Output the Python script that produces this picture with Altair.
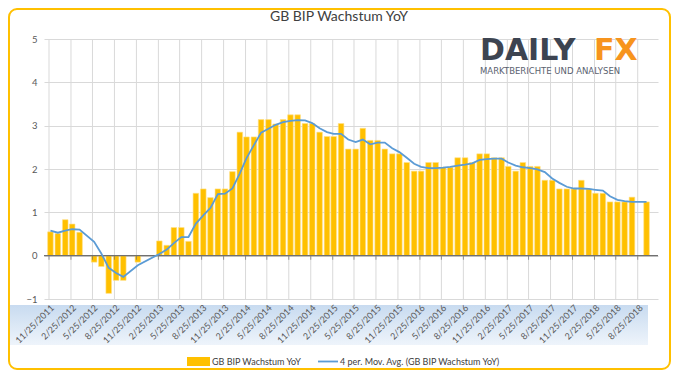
import altair as alt
import pandas as pd

title_text = "GB BIP Wachstum YoY"
bar_name = "GB BIP Wachstum YoY"
line_name = "4 per. Mov. Avg. (GB BIP Wachstum YoY)"

bar_dates = [
    "2011-12-01", "2012-01-01", "2012-02-01", "2012-03-01", "2012-04-01",
    "2012-06-01", "2012-07-01", "2012-08-01", "2012-09-01", "2012-10-01", "2012-12-01",
    "2013-03-01", "2013-04-01", "2013-05-01", "2013-06-01", "2013-07-01", "2013-08-01",
    "2013-09-01", "2013-10-01", "2013-11-01", "2013-12-01",
    "2014-01-01", "2014-02-01", "2014-03-01", "2014-04-01", "2014-05-01", "2014-06-01",
    "2014-07-01", "2014-08-01", "2014-09-01", "2014-10-01", "2014-11-01", "2014-12-01",
    "2015-01-01", "2015-02-01", "2015-03-01", "2015-04-01", "2015-05-01", "2015-06-01",
    "2015-07-01", "2015-08-01", "2015-09-01", "2015-10-01", "2015-11-01", "2015-12-01",
    "2016-01-01", "2016-02-01", "2016-03-01", "2016-04-01", "2016-05-01", "2016-06-01",
    "2016-07-01", "2016-08-01", "2016-09-01", "2016-10-01", "2016-11-01", "2016-12-01",
    "2017-01-01", "2017-02-01", "2017-03-01", "2017-04-01", "2017-05-01", "2017-06-01",
    "2017-07-01", "2017-08-01", "2017-09-01", "2017-10-01", "2017-11-01", "2017-12-01",
    "2018-01-01", "2018-02-01", "2018-03-01", "2018-04-01", "2018-05-01", "2018-06-01",
    "2018-07-01", "2018-08-01", "2018-10-01",
]

growth = [
    0.55, 0.51, 0.83, 0.73, 0.54,
    -0.15, -0.25, -0.87, -0.57, -0.57, -0.15,
    0.34, 0.24, 0.65, 0.65, 0.33, 1.44,
    1.54, 1.34, 1.54, 1.54,
    1.94, 2.85, 2.74, 2.74, 3.14, 3.14,
    3.04, 3.14, 3.25, 3.25, 3.05, 3.05,
    2.85, 2.75, 2.75, 3.05, 2.46, 2.46,
    2.94, 2.66, 2.66, 2.46, 2.35, 2.35,
    2.15, 1.95, 1.95, 2.15, 2.15, 2.04,
    2.04, 2.26, 2.26, 2.15, 2.35, 2.35,
    2.26, 2.26, 2.06, 1.95, 2.15, 2.06,
    2.06, 1.74, 1.74, 1.54, 1.54, 1.54,
    1.74, 1.54, 1.44, 1.44, 1.24, 1.24,
    1.24, 1.35, 1.24,
]

mov_avg = [
    0.58, 0.53, 0.58, 0.61, 0.60,
    0.32, 0.05, -0.28, -0.40, -0.49, -0.22,
    0.04, 0.14, 0.29, 0.43, 0.43, 0.74,
    0.93, 1.10, 1.42, 1.43,
    1.55, 1.90, 2.25, 2.55, 2.84, 2.93,
    3.02, 3.08, 3.11, 3.13, 3.12, 3.06,
    2.94, 2.85, 2.81, 2.81, 2.68, 2.62,
    2.68, 2.57, 2.61, 2.61, 2.48, 2.39,
    2.26, 2.12, 2.05, 2.02, 2.02, 2.03,
    2.05, 2.08, 2.10, 2.13, 2.21, 2.23,
    2.24, 2.24, 2.15, 2.08, 2.04, 2.02,
    1.99, 1.93, 1.78, 1.68, 1.59, 1.55,
    1.55, 1.54, 1.52, 1.50, 1.37, 1.29,
    1.26, 1.24, 1.24,
]

tick_labels = [
    "11/25/2011", "2/25/2012", "5/25/2012", "8/25/2012", "11/25/2012",
    "2/25/2013", "5/25/2013", "8/25/2013", "11/25/2013",
    "2/25/2014", "5/25/2014", "8/25/2014", "11/25/2014",
    "2/25/2015", "5/25/2015", "8/25/2015", "11/25/2015",
    "2/25/2016", "5/25/2016", "8/25/2016", "11/25/2016",
    "2/25/2017", "5/25/2017", "8/25/2017", "11/25/2017",
    "2/25/2018", "5/25/2018", "8/25/2018",
]
y_ticks = [-1, 0, 1, 2, 3, 4, 5]
x_range = ["2011-11-25", "2018-10-28"]


def to_ms(ts):
    return int(ts.value // 10**6)


tick_ms = [to_ms(pd.to_datetime(t, format="%m/%d/%Y")) for t in tick_labels]
dom_ms = [to_ms(pd.Timestamp(d)) for d in x_range]

df = pd.DataFrame({"date": bar_dates, "value": growth, "avg": mov_avg})
ticks_df = pd.DataFrame({"t": tick_ms, "z": [0] * len(tick_ms)})

W, H = 614, 260
GRID = "#D9D9D9"
LABEL = "#595959"
FONT = "Lato"

x_scale = alt.Scale(type="utc", domain=dom_ms)
y_scale = alt.Scale(domain=[-1, 5], nice=False, zero=False)
x_axis = alt.Axis(
    values=tick_ms,
    labelExpr="utcFormat(datum.value, '%-m/%-d/%Y')",
    labelAngle=-45, labelAlign="right", labelBaseline="middle",
    labelFontSize=9, labelColor=LABEL, labelFont=FONT,
    labelPadding=7, labelOffset=3, labelFlush=False, labelOverlap=False,
    ticks=False, domain=False, grid=False,
    title=None, zindex=1,
)
y_axis = alt.Axis(
    values=y_ticks, title=None, ticks=False, domain=False,
    gridColor=GRID, gridWidth=1, labelColor=LABEL, labelFontSize=9.5,
    labelFont=FONT, labelPadding=7,
)

one = pd.DataFrame({"k": [0]})

band = alt.Chart(one).mark_rect(
    fill=alt.Gradient(
        gradient="linear",
        stops=[alt.GradientStop(color="#C8DBF0", offset=0),
               alt.GradientStop(color="#EEF4FB", offset=1)],
        x1=0, x2=0, y1=0, y2=1,
    )
).encode(x=alt.value(-35), x2=alt.value(604), y=alt.value(266), y2=alt.value(306))

vgrid = alt.Chart(ticks_df).mark_rule(color=GRID, strokeWidth=1).encode(
    x=alt.X("t:T", scale=x_scale, axis=x_axis)
)

bars = alt.Chart(df).mark_bar(size=5.6, color="#FFC000", stroke="#FFE08A", strokeWidth=0.6).encode(
    x=alt.X("date:T", scale=x_scale, axis=x_axis),
    y=alt.Y("value:Q", scale=y_scale, axis=y_axis),
)

zero_rule = alt.Chart(pd.DataFrame({"z": [0]})).mark_rule(color="#707070", strokeWidth=1.3).encode(
    y=alt.Y("z:Q", scale=y_scale, axis=y_axis)
)

zero_ticks = alt.Chart(ticks_df).mark_tick(
    orient="vertical", size=4, thickness=1, color="#707070", yOffset=2
).encode(
    x=alt.X("t:T", scale=x_scale, axis=x_axis),
    y=alt.Y("z:Q", scale=y_scale, axis=y_axis),
)

line = alt.Chart(df).mark_line(color="#5B9BD5", strokeWidth=1.8).encode(
    x=alt.X("date:T", scale=x_scale, axis=x_axis),
    y=alt.Y("avg:Q", scale=y_scale, axis=y_axis),
)

title = alt.Chart(pd.DataFrame({"t": [title_text]})).mark_text(
    font=FONT, fontSize=14, color="#404040", align="center", baseline="middle"
).encode(text="t:N", x=alt.value(295), y=alt.value(-22))

logo1 = alt.Chart(pd.DataFrame({"t": ["DAILY"]})).mark_text(
    font="DejaVu Sans", fontWeight="bold", fontSize=30, color="#3D4451",
    align="left", baseline="alphabetic"
).encode(text="t:N", x=alt.value(436), y=alt.value(21))

logo2 = alt.Chart(pd.DataFrame({"t": ["FX"]})).mark_text(
    font="DejaVu Sans", fontWeight="bold", fontSize=30, color="#F7941D",
    align="left", baseline="alphabetic"
).encode(text="t:N", x=alt.value(550), y=alt.value(21))

logo3 = alt.Chart(pd.DataFrame({"t": ["MARKTBERICHTE UND ANALYSEN"]})).mark_text(
    font="DejaVu Sans", fontSize=8.5, color="#5A6270", align="left", baseline="alphabetic"
).encode(text="t:N", x=alt.value(436), y=alt.value(35))

leg_rect = alt.Chart(one).mark_rect(color="#FFC000").encode(
    x=alt.value(143), x2=alt.value(166), y=alt.value(318), y2=alt.value(327)
)
leg_text1 = alt.Chart(pd.DataFrame({"t": [bar_name]})).mark_text(
    font=FONT, fontSize=9, color="#404040", align="left", baseline="middle"
).encode(text="t:N", x=alt.value(168), y=alt.value(322.5))
leg_line = alt.Chart(one).mark_rule(color="#5B9BD5", strokeWidth=1.8).encode(
    x=alt.value(274), x2=alt.value(294), y=alt.value(322.5)
)
leg_text2 = alt.Chart(pd.DataFrame({"t": [line_name]})).mark_text(
    font=FONT, fontSize=9, color="#404040", align="left", baseline="middle"
).encode(text="t:N", x=alt.value(296), y=alt.value(322.5))

border = alt.Chart(one).mark_rect(
    fillOpacity=0, stroke="#FFC000", strokeWidth=2, cornerRadius=8
).encode(x=alt.value(-35), x2=alt.value(626), y=alt.value(-30), y2=alt.value(330))

chart = alt.layer(
    band, vgrid, bars, zero_rule, zero_ticks, line, title, logo1, logo2, logo3,
    leg_rect, leg_text1, leg_line, leg_text2, border
).properties(
    width=W, height=H,
    padding={"left": 36, "top": 31, "right": 13, "bottom": 71},
    autosize=alt.AutoSizeParams(type="none"),
    background="white",
).configure_view(stroke=None)

chart.save("out.html", embed_options={"renderer": "svg", "actions": False})
